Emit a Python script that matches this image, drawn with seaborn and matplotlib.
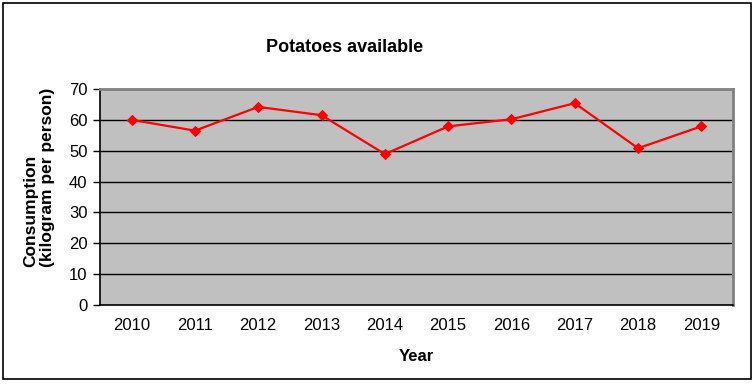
import numpy as np
import pandas as pd
import matplotlib
matplotlib.use('Agg')
import matplotlib.pyplot as plt
import seaborn as sns
from matplotlib.patches import Rectangle

# data
years = ['2010', '2011', '2012', '2013', '2014', '2015', '2016', '2017', '2018', '2019']
consumption = [60.0, 56.5, 64.2, 61.5, 48.9, 57.9, 60.2, 65.4, 50.8, 57.9]
y_ticks = [0, 10, 20, 30, 40, 50, 60, 70]

df = pd.DataFrame({'Year': years, 'Consumption': consumption})

sns.set_style('white')
plt.rcParams['font.family'] = ['Liberation Sans', 'DejaVu Sans']
plt.rcParams['text.color'] = 'black'
plt.rcParams['axes.labelcolor'] = 'black'
plt.rcParams['xtick.color'] = 'black'
plt.rcParams['ytick.color'] = 'black'

fig = plt.figure(figsize=(7.55, 3.84), dpi=100)
ax = fig.add_axes([100/755, 1 - 305/384, 633/755, 216/384])
ax.set_facecolor('#C0C0C0')

sns.lineplot(data=df, x='Year', y='Consumption', ax=ax, color='#FF0000',
             linewidth=1.6, marker='D', markersize=5.5, markeredgecolor='#FF0000',
             sort=False)

ax.set_xlim(-0.5, len(years) - 0.5)
ax.set_ylim(0, 70)
ax.set_yticks(y_ticks)
ax.set_xticks(range(len(years)))
ax.set_xticklabels(years)
ax.set_xticks(np.arange(-0.5, len(years)), minor=True)

# horizontal gridlines
for v in y_ticks[1:-1]:
    ax.axhline(v, color='black', linewidth=1, zorder=1)

ax.tick_params(axis='x', which='major', length=0, pad=9, labelsize=12, labelcolor='black')
ax.tick_params(axis='x', which='minor', length=5, width=1, color='black', direction='out')
ax.tick_params(axis='y', length=5, width=1, color='black', direction='out', pad=4,
               labelsize=12, labelcolor='black')
ax.tick_params(axis='both', bottom=True, left=True)

for side in ['left', 'bottom']:
    ax.spines[side].set_color('black')
    ax.spines[side].set_linewidth(1.2)
for side in ['top', 'right']:
    ax.spines[side].set_color('#808080')
    ax.spines[side].set_linewidth(2)

ax.set_xlabel('Year', fontsize=12, fontweight='bold', labelpad=12, color='black')
ax.set_ylabel('Consumption\n(kilogram per person)', fontsize=12.5, fontweight='bold',
              color='black', va='center', multialignment='left')
ax.yaxis.set_label_coords((39 - 100) / 633, (305 - 177) / 216)

fig.text(345/755, 1 - 48/384, 'Potatoes available', fontsize=13, fontweight='bold',
         ha='center', va='center', color='black')

# outer chart border
fig.patches.append(Rectangle((3/755, 5/384), 748/755, 376/384, transform=fig.transFigure,
                             fill=False, edgecolor='black', linewidth=1.2))

fig.savefig('out.png', dpi=100)
